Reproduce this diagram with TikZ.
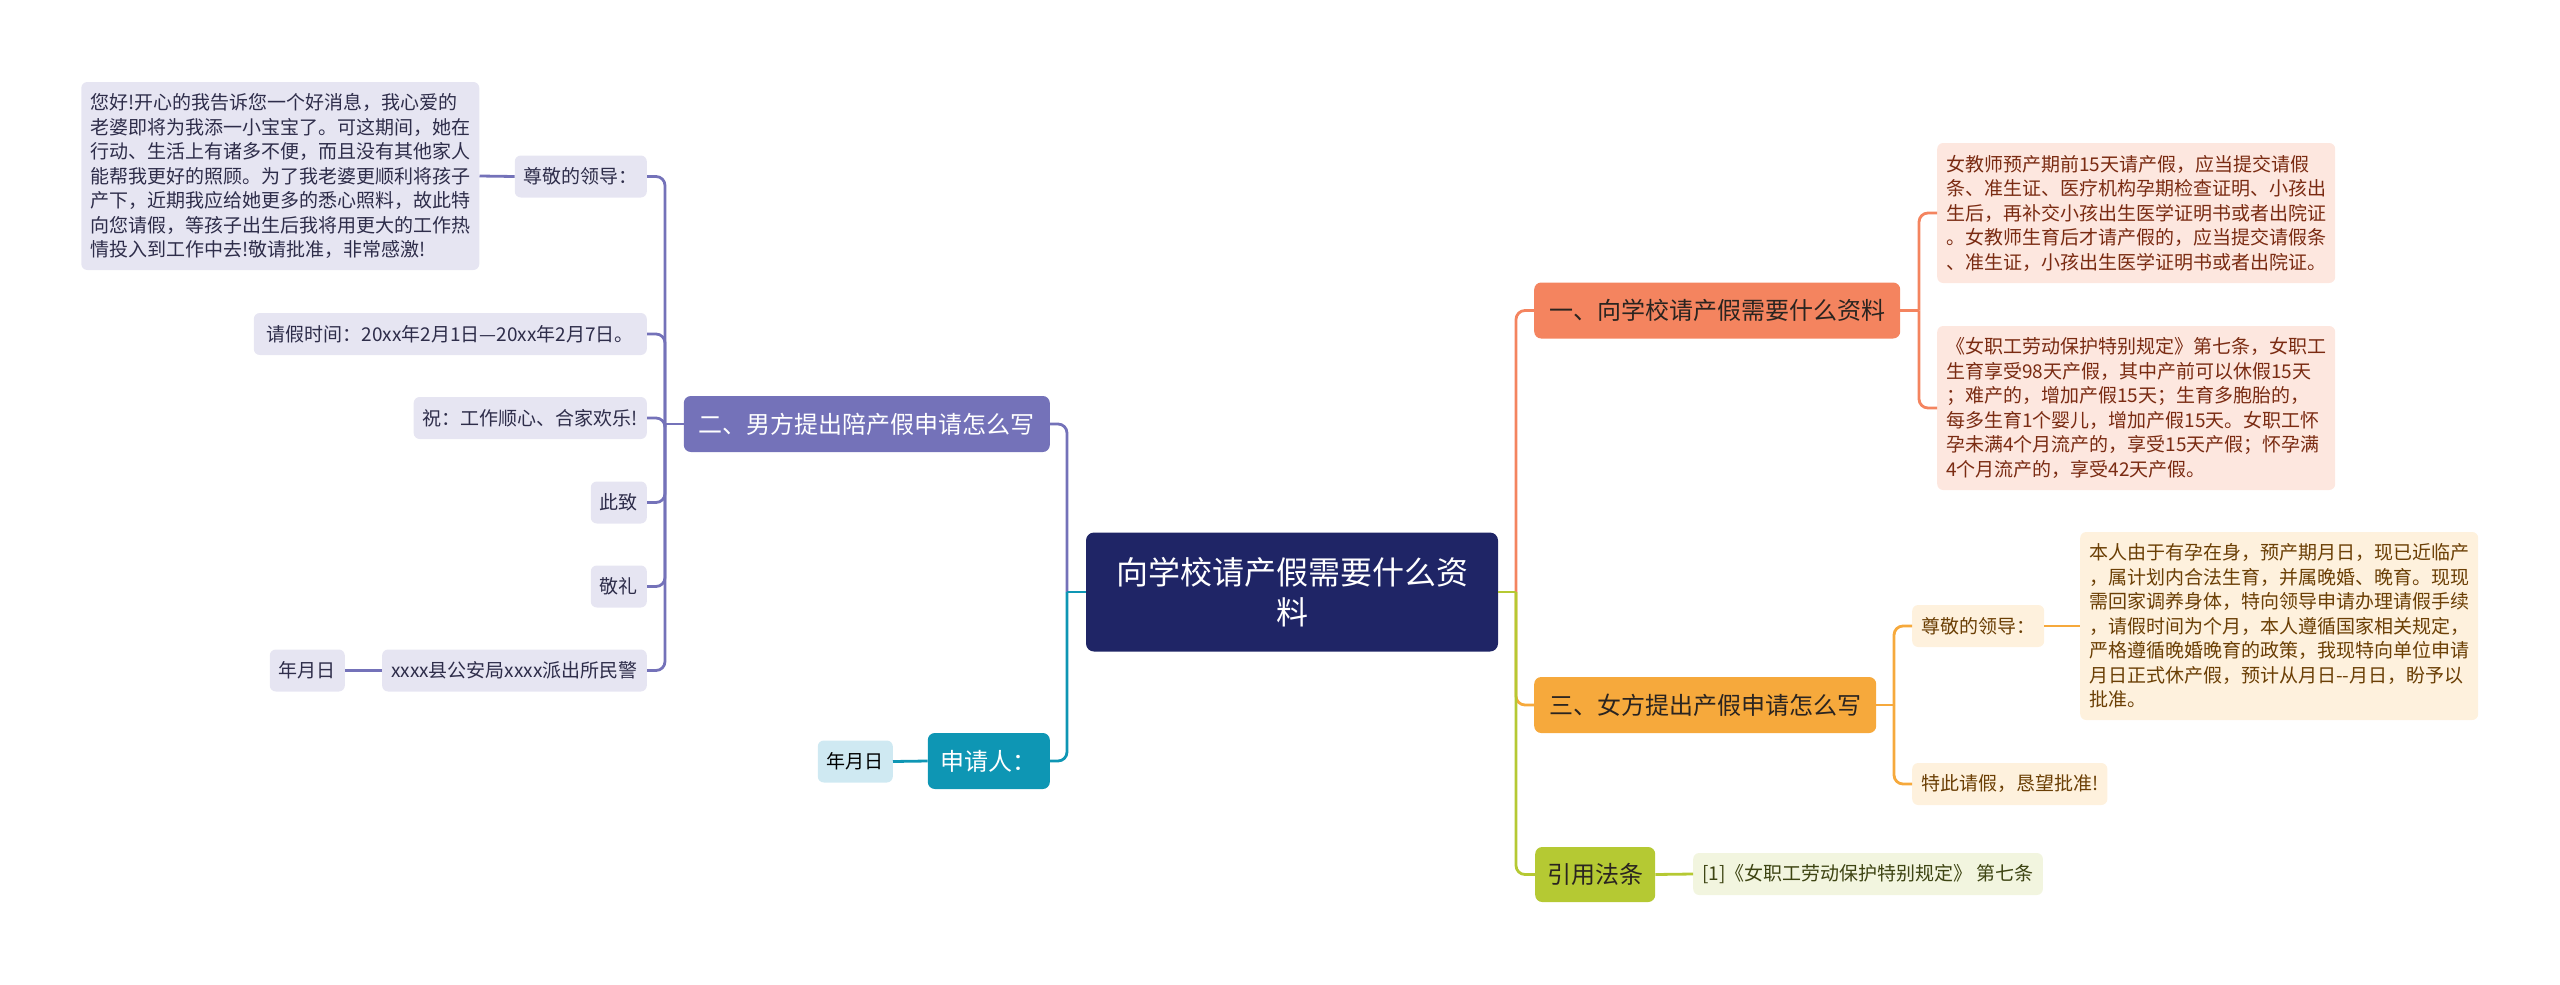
\documentclass[tikz,border=0pt]{standalone}
\usepackage{fontspec}
\setmainfont{Noto Sans CJK SC}
\usetikzlibrary{positioning}

\definecolor{navy}{HTML}{1F2566}
\definecolor{coral}{HTML}{F4845F}
\definecolor{coralbg}{HTML}{FDE7DF}
\definecolor{coraltx}{HTML}{7A2B12}
\definecolor{lilac}{HTML}{7472B9}
\definecolor{lilacbg}{HTML}{E6E5F2}
\definecolor{lilactx}{HTML}{2E2D4A}
\definecolor{tealb}{HTML}{0E96B4}
\definecolor{tealbg}{HTML}{CFE9F2}
\definecolor{amber}{HTML}{F6A93C}
\definecolor{amberbg}{HTML}{FEF1DD}
\definecolor{ambertx}{HTML}{6B3F05}
\definecolor{leafgreen}{HTML}{B5C933}
\definecolor{leafbg}{HTML}{F2F5DF}
\definecolor{leaftx}{HTML}{3D4412}
\definecolor{ink}{HTML}{2A2420}

\begin{document}
\begin{tikzpicture}[x=1pt,y=-1pt,
		root/.style={fill=navy,text=white,rounded corners=8pt,align=center,
			font=\fontsize{32pt}{40pt}\selectfont,minimum width=412pt,minimum height=119pt},
		topic/.style={rounded corners=7pt,font=\fontsize{24pt}{30pt}\selectfont,
			inner xsep=15pt,inner ysep=0pt,minimum height=56pt},
		leaf/.style={rounded corners=6pt,font=\fontsize{19pt}{24.5pt}\selectfont,
			inner xsep=9pt,inner ysep=0pt,minimum height=42pt},
		para/.style={leaf,text width=380pt,align=left},
		link/.style={line width=2.8pt},
		elbow/.style={link,rounded corners=9pt}]
		\useasboundingbox (0,0) rectangle (2560,985);

		% Central topic
		\node[root] (root) at (1292,592) {向学校请产假需要什么资\\料};

		% Right branches
		\node[topic,fill=coral,text=ink,anchor=west] (b1) at (1534,310.5) {一、向学校请产假需要什么资料};
		\node[topic,fill=amber,text=ink,anchor=west] (b3) at (1534,705) {三、女方提出产假申请怎么写};
		\node[topic,fill=leafgreen,text=ink,anchor=west,minimum height=55pt,inner xsep=12pt] (b4) at (1535,874.5) {引用法条};

		% Left branches
		\node[topic,fill=lilac,text=white,anchor=east] (b2) at (1050,424) {二、男方提出陪产假申请怎么写};
		\node[topic,fill=tealb,text=white,anchor=east,inner xsep=13pt] (b5) at (1050,761) {申请人：};

		% Leaves of branch one
		\node[para,fill=coralbg,text=coraltx,anchor=west,minimum height=140pt] (c11) at (1937,213) {女教师预产期前15天请产假，应当提交请假\\条、准生证、医疗机构孕期检查证明、小孩出\\生后，再补交小孩出生医学证明书或者出院证\\。女教师生育后才请产假的，应当提交请假条\\、准生证，小孩出生医学证明书或者出院证。};
		\node[para,fill=coralbg,text=coraltx,anchor=west,minimum height=164pt] (c12) at (1937,408) {《女职工劳动保护特别规定》第七条，女职工\\生育享受98天产假，其中产前可以休假15天\\；难产的，增加产假15天；生育多胞胎的，\\每多生育1个婴儿，增加产假15天。女职工怀\\孕未满4个月流产的，享受15天产假；怀孕满\\4个月流产的，享受42天产假。};

		% Leaves of branch three
		\node[leaf,fill=amberbg,text=ambertx,anchor=west] (c31) at (1912,626) {尊敬的领导：};
		\node[para,fill=amberbg,text=ambertx,anchor=west,minimum height=188pt] (c311) at (2080,626) {本人由于有孕在身，预产期月日，现已近临产\\，属计划内合法生育，并属晚婚、晚育。现现\\需回家调养身体，特向领导申请办理请假手续\\，请假时间为个月，本人遵循国家相关规定，\\严格遵循晚婚晚育的政策，我现特向单位申请\\月日正式休产假，预计从月日-{}-月日，盼予以\\批准。};
		\node[leaf,fill=amberbg,text=ambertx,anchor=west] (c32) at (1912,784) {特此请假，恳望批准!};

		% Leaf of the law branch
		\node[leaf,fill=leafbg,text=leaftx,anchor=west] (c41) at (1693,874) {[1]《女职工劳动保护特别规定》 第七条};

		% Leaves of branch two
		\node[leaf,fill=lilacbg,text=lilactx,anchor=east] (c21) at (647,176.5) {尊敬的领导：};
		\node[para,fill=lilacbg,text=lilactx,anchor=east,minimum height=188pt] (c211) at (479.5,176) {您好!开心的我告诉您一个好消息，我心爱的\\老婆即将为我添一小宝宝了。可这期间，她在\\行动、生活上有诸多不便，而且没有其他家人\\能帮我更好的照顾。为了我老婆更顺利将孩子\\产下，近期我应给她更多的悉心照料，故此特\\向您请假，等孩子出生后我将用更大的工作热\\情投入到工作中去!敬请批准，非常感激!};
		\node[leaf,fill=lilacbg,text=lilactx,anchor=east,minimum width=393pt] (c22) at (647,334) {请假时间：20xx年2月1日—20xx年2月7日。};
		\node[leaf,fill=lilacbg,text=lilactx,anchor=east] (c23) at (647,418) {祝：工作顺心、合家欢乐!};
		\node[leaf,fill=lilacbg,text=lilactx,anchor=east] (c24) at (647,502.5) {此致};
		\node[leaf,fill=lilacbg,text=lilactx,anchor=east] (c25) at (647,586.5) {敬礼};
		\node[leaf,fill=lilacbg,text=lilactx,anchor=east] (c26) at (647,670.5) {xxxx县公安局xxxx派出所民警};
		\node[leaf,fill=lilacbg,text=lilactx,anchor=east] (c261) at (345,670.5) {年月日};

		% Leaf of the applicant branch
		\node[leaf,fill=tealbg,text=black,anchor=east] (c51) at (893,761.5) {年月日};

		% Junctions
		\coordinate (rj) at (1516,592);
		\coordinate (lj) at (1067,592);
		\coordinate (j1) at (1919,310.5);
		\coordinate (j3) at (1894,705);
		\coordinate (j2) at (665,424);

		% Connectors, right side
		\draw[elbow,coral] (rj) |- (b1.west);
		\draw[elbow,amber] (rj) |- (b3.west);
		\draw[elbow,leafgreen] (rj) |- (b4.west);
		\draw[link,leafgreen] (root.east) -- (rj);
		\draw[link,coral] (b1.east) -- (j1);
		\draw[elbow,coral] (j1) |- (c11.west);
		\draw[elbow,coral] (j1) |- (c12.west);
		\draw[link,amber] (b3.east) -- (j3);
		\draw[elbow,amber] (j3) |- (c31.west);
		\draw[elbow,amber] (j3) |- (c32.west);
		\draw[link,amber] (c31.east) -- (c311.west);
		\draw[link,leafgreen] (b4.east) -- (c41.west);

		% Connectors, left side
		\draw[elbow,lilac] (lj) |- (b2.east);
		\draw[elbow,tealb] (lj) |- (b5.east);
		\draw[link,tealb] (root.west) -- (lj);
		\draw[link,lilac] (b2.west) -- (j2);
		\foreach \n in {c21,c22,c23,c24,c25,c26}
			\draw[elbow,lilac] (j2) |- (\n.east);
		\draw[link,lilac] (c21.west) -- (c211.east);
		\draw[link,lilac] (c26.west) -- (c261.east);
		\draw[link,tealb] (b5.west) -- (c51.east);
	\end{tikzpicture}
\end{document}
